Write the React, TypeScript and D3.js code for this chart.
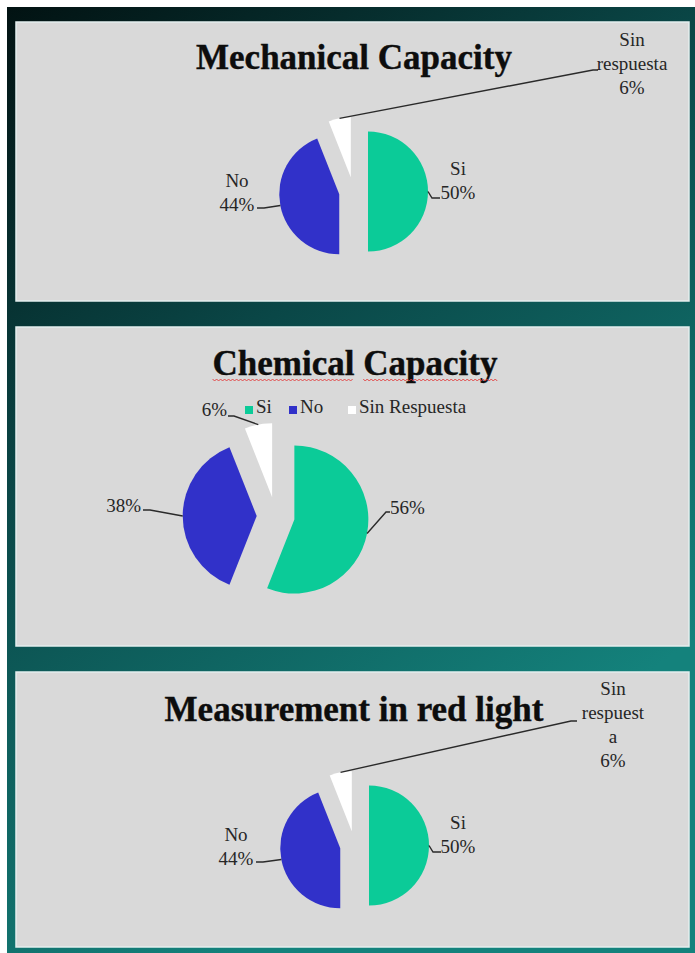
import React, { useMemo } from 'react';
import * as d3 from 'd3';

// ---- data ----
const categories = ['Si', 'No', 'Sin respuesta'];
const mechanicalValues = [50, 44, 6];
const chemicalValues = [56, 38, 6];
const redLightValues = [50, 44, 6];
const sliceColors = ['#0bcb98', '#3131c9', '#ffffff'];
const legendLabels = ['Si', 'No', 'Sin Respuesta'];
const titles = ['Mechanical Capacity', 'Chemical Capacity', 'Measurement in red light'];
// category names as wrapped inside each data label (empty = value only)
const mechanicalNameLines = [['Si'], ['No'], ['Sin', 'respuesta']];
const chemicalNameLines: string[][] = [[], [], []];
const redLightNameLines = [['Si'], ['No'], ['Sin', 'respuest', 'a']];

// ---- layout ----
type Pt = [number, number];
type LabelLayout = { x: number; y: number; anchor: 'start' | 'middle' | 'end'; elbow: Pt; end: Pt };
type ChartLayout = {
  panel: [number, number];
  title: Pt;
  squiggle?: boolean;
  pie: { cx: number; cy: number; r: number; explode: number };
  labels: LabelLayout[];
  legend?: { y: number; xs: number[] };
};

const W = 695;
const H = 953;
const PANEL_X0 = 16;
const PANEL_X1 = 689;
const LABEL_FONT = 19;
const LINE_H = 24;
const TITLE_FONT = 35;
const SERIF = '"Liberation Serif", "Times New Roman", serif';
const TEXT_COLOR = '#262626';

const mechanicalLayout: ChartLayout = {
  panel: [22, 301],
  title: [354, 69],
  pie: { cx: 353.5, cy: 191.5, r: 60, explode: 14.5 },
  labels: [
    { x: 458, y: 175, anchor: 'middle', elbow: [432, 198], end: [440, 198] },
    { x: 237, y: 187, anchor: 'middle', elbow: [264, 208], end: [257, 208] },
    { x: 632, y: 46, anchor: 'middle', elbow: [593, 70], end: [598, 70] },
  ],
};

const chemicalLayout: ChartLayout = {
  panel: [327, 646],
  title: [355, 375],
  squiggle: true,
  pie: { cx: 275.7, cy: 516, r: 74, explode: 19 },
  labels: [
    { x: 390, y: 514, anchor: 'start', elbow: [386, 512], end: [390, 512] },
    { x: 141, y: 512, anchor: 'end', elbow: [150, 510], end: [143, 510] },
    { x: 227, y: 416, anchor: 'end', elbow: [234, 416], end: [228, 416] },
  ],
  legend: { y: 413, xs: [245, 289, 348] },
};

const redLightLayout: ChartLayout = {
  panel: [672, 947],
  title: [354, 721],
  pie: { cx: 354.5, cy: 845.5, r: 60, explode: 14.5 },
  labels: [
    { x: 458, y: 829, anchor: 'middle', elbow: [433, 852], end: [441, 852] },
    { x: 236, y: 841, anchor: 'middle', elbow: [263, 862], end: [256, 862] },
    { x: 613, y: 695, anchor: 'middle', elbow: [571, 721], end: [577, 721] },
  ],
};

function measure(text: string, font: string): number {
  const c = document.createElement('canvas').getContext('2d');
  if (!c) return text.length * 16;
  c.font = font;
  return c.measureText(text).width;
}

function zigzag(x0: number, x1: number, y: number): string {
  const pts: Pt[] = [];
  let up = true;
  for (let x = x0; x <= x1; x += 2) {
    pts.push([x, up ? y : y + 2]);
    up = !up;
  }
  return d3.line()(pts) || '';
}

function Title({ text, layout }: { text: string; layout: ChartLayout }) {
  const [tx, ty] = layout.title;
  const font = `bold ${TITLE_FONT}px ${SERIF}`;
  const waves = useMemo(() => {
    if (!layout.squiggle) return [] as string[];
    const total = measure(text, font);
    const words = text.split(' ');
    let x = tx - total / 2;
    const out: string[] = [];
    words.forEach((w) => {
      const ww = measure(w, font);
      out.push(zigzag(x, x + ww, ty + 4));
      x += ww + measure(' ', font);
    });
    return out;
  }, [text, font, tx, ty, layout.squiggle]);
  return (
    <g>
      <text
        x={tx}
        y={ty}
        textAnchor="middle"
        fontFamily={SERIF}
        fontWeight="bold"
        fontSize={TITLE_FONT}
        fill="#0d0d0d"
        stroke="#0d0d0d"
        strokeWidth={0.4}
      >
        {text}
      </text>
      {waves.map((d, i) => (
        <path key={i} d={d} fill="none" stroke="#e23a3a" strokeWidth={0.9} />
      ))}
    </g>
  );
}

function PieChart({
  values,
  nameLines,
  layout,
  title,
}: {
  values: number[];
  nameLines: string[][];
  layout: ChartLayout;
  title: string;
}) {
  const { cx, cy, r, explode } = layout.pie;
  const arcs = d3
    .pie<number>()
    .sort(null)
    .value((d) => d)
    .startAngle(0)
    .endAngle(2 * Math.PI)(values);
  const arcGen = d3.arc<d3.PieArcDatum<number>>().innerRadius(0).outerRadius(r);

  return (
    <g>
      <rect
        x={PANEL_X0}
        y={layout.panel[0]}
        width={PANEL_X1 - PANEL_X0}
        height={layout.panel[1] - layout.panel[0]}
        fill="#d9d9d9"
        stroke="#e4eeee"
        strokeWidth={1.5}
      />
      <Title text={title} layout={layout} />
      {layout.legend &&
        legendLabels.map((lab, i) => {
          const lx = layout.legend!.xs[i];
          const ly = layout.legend!.y;
          return (
            <g key={lab}>
              <rect x={lx} y={ly - 7} width={8} height={8} fill={sliceColors[i]} />
              <text x={lx + 11} y={ly} fontFamily={SERIF} fontSize={LABEL_FONT} fill={TEXT_COLOR}>
                {lab}
              </text>
            </g>
          );
        })}
      {arcs.map((a, i) => {
        const mid = (a.startAngle + a.endAngle) / 2;
        const sx = cx + Math.sin(mid) * explode;
        const sy = cy - Math.cos(mid) * explode;
        const ax = sx + Math.sin(mid) * r;
        const ay = sy - Math.cos(mid) * r;
        const lab = layout.labels[i];
        const lines = [...nameLines[i], `${values[i]}%`];
        const leader = d3.line()([[ax, ay], lab.elbow, lab.end]) || '';
        return (
          <g key={categories[i]}>
            <path d={arcGen(a) || ''} transform={`translate(${sx},${sy})`} fill={sliceColors[i]} />
            <path d={leader} fill="none" stroke="#2a2a2a" strokeWidth={1.4} />
            <text
              x={lab.x}
              y={lab.y}
              textAnchor={lab.anchor}
              fontFamily={SERIF}
              fontSize={LABEL_FONT}
              fill={TEXT_COLOR}
            >
              {lines.map((t, j) => (
                <tspan key={j} x={lab.x} dy={j === 0 ? 0 : LINE_H}>
                  {t}
                </tspan>
              ))}
            </text>
          </g>
        );
      })}
    </g>
  );
}

export default function App() {
  return (
    <svg
      width={W}
      height={H}
      viewBox={`0 0 ${W} ${H}`}
      style={{ position: 'absolute', left: 0, top: 0, display: 'block' }}
    >
      <defs>
        <linearGradient id="bg" gradientUnits="userSpaceOnUse" x1={0} y1={0} x2={520} y2={760}>
          <stop offset="0" stopColor="#021111" />
          <stop offset="0.45" stopColor="#0a4747" />
          <stop offset="1" stopColor="#14827c" />
        </linearGradient>
      </defs>
      <rect x={0} y={0} width={W} height={H} fill="#ffffff" />
      <rect x={7} y={7} width={W - 7} height={H - 7} fill="url(#bg)" />
      <PieChart values={mechanicalValues} nameLines={mechanicalNameLines} layout={mechanicalLayout} title={titles[0]} />
      <PieChart values={chemicalValues} nameLines={chemicalNameLines} layout={chemicalLayout} title={titles[1]} />
      <PieChart values={redLightValues} nameLines={redLightNameLines} layout={redLightLayout} title={titles[2]} />
    </svg>
  );
}
